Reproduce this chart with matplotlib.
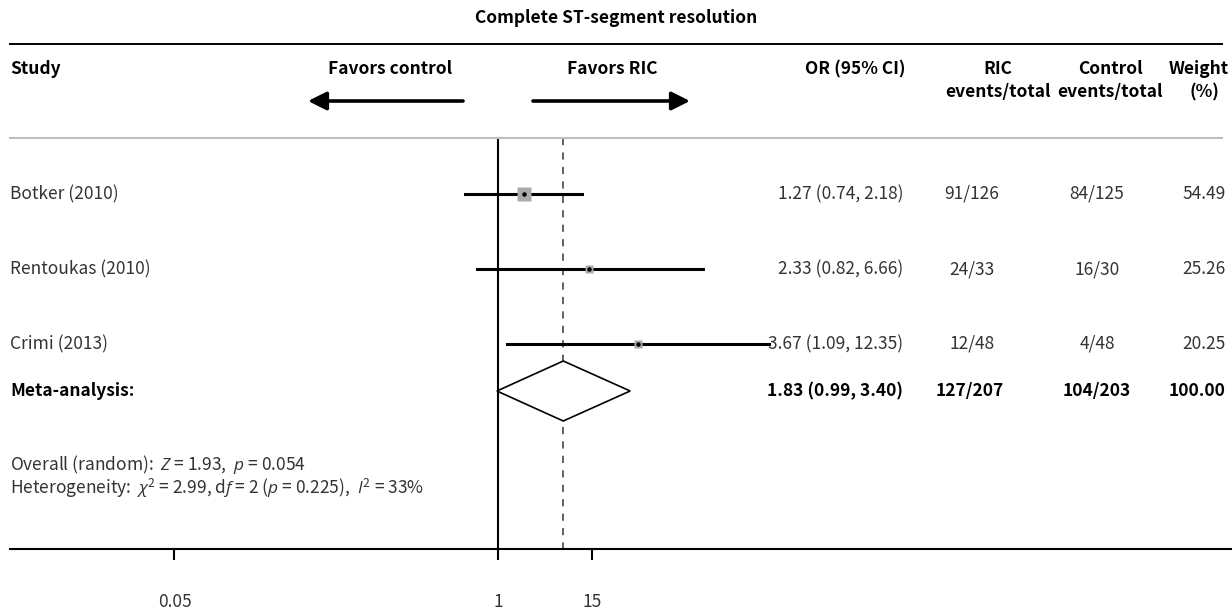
import numpy as np
import matplotlib
matplotlib.use('Agg')  # no display
import matplotlib.pyplot as plt
from matplotlib.patches import Polygon

plt.rcParams['font.family'] = ['Noto Sans CJK JP', 'DejaVu Sans']
plt.rcParams['mathtext.fontset'] = 'custom'
plt.rcParams['mathtext.rm'] = 'Noto Sans CJK JP'
plt.rcParams['mathtext.it'] = 'Open Sans:italic'
plt.rcParams['mathtext.bf'] = 'Noto Sans CJK JP:bold'

# data
studies = ['Botker (2010)', 'Rentoukas (2010)', 'Crimi (2013)']
odds_ratio = [1.27, 2.33, 3.67]
ci_low = [0.74, 0.82, 1.09]
ci_high = [2.18, 6.66, 12.35]
ric_events = ['91/126', '24/33', '12/48']
control_events = ['84/125', '16/30', '4/48']
weights = [54.49, 25.26, 20.25]

pooled_or = 1.83
pooled_low = 0.99
pooled_high = 3.40
pooled_ric = '127/207'
pooled_control = '104/203'
pooled_weight = 100.00

overall_txt = r'Overall (random):  $\mathit{Z}$ = 1.93,  $\mathit{p}$ = 0.054'
hetero_txt = (r'Heterogeneity:  $\chi^2$ = 2.99, d$\mathit{f}$ = 2 ($\mathit{p}$ = 0.225),  '
              r'$\mathit{I}^2$ = 33%')

tick_vals = [0.05, 1, 2.39]
tick_labels = ['0.05', '1', '15']

# layout (pixels, figure is 1232 x 614 at 100 dpi)
W, H = 1232, 614
row_y = [194, 269, 344]
meta_y = 391
axis_y = 549
top_line_y = 44
grey_line_y = 138
px_per_log = 108.0
x_one = 498

fig = plt.figure(figsize=(W / 100, H / 100), dpi=100)
ax = fig.add_axes([0, 0, 1, 1])
ax.set_xscale('log')
ax.set_xlim(np.exp(-x_one / px_per_log), np.exp((W - x_one) / px_per_log))
ax.set_ylim(H, 0)
ax.axis('off')

tr = ax.get_yaxis_transform()  # x in axes fraction, y in data (pixels)


def fx(px):
    return px / W


def txt(px, py, s, ha='left', bold=False, size=12.5):
    ax.text(fx(px), py, s, transform=tr, ha=ha, va='center', fontsize=size,
            fontweight='bold' if bold else 'normal',
            color='black' if bold else '#333333')


# title and rules
txt(616, 18, 'Complete ST-segment resolution', ha='center', bold=True)
ax.plot([fx(10), fx(1222)], [top_line_y, top_line_y], transform=tr, color='black', lw=1.4)
ax.plot([fx(10), fx(1222)], [grey_line_y, grey_line_y], transform=tr, color='#bdbdbd', lw=1.5)

# column headers
txt(10, 69, 'Study', bold=True)
txt(390, 69, 'Favors control', ha='center', bold=True)
txt(612, 69, 'Favors RIC', ha='center', bold=True)
txt(855, 69, 'OR (95% CI)', ha='center', bold=True)
txt(998, 69, 'RIC', ha='center', bold=True)
txt(998, 92, 'events/total', ha='center', bold=True)
txt(1110, 69, 'Control', ha='center', bold=True)
txt(1110, 92, 'events/total', ha='center', bold=True)
txt(1199, 69, 'Weight', ha='center', bold=True)
txt(1204, 92, '(%)', ha='center', bold=True)

arrow_style = dict(arrowstyle='-|>,head_length=1.1,head_width=0.55', lw=2.6,
                   color='black', shrinkA=0, shrinkB=0)
ax.annotate('', xy=(fx(308), 101), xytext=(fx(463), 101), xycoords=tr, textcoords=tr,
            arrowprops=arrow_style)
ax.annotate('', xy=(fx(690), 101), xytext=(fx(533), 101), xycoords=tr, textcoords=tr,
            arrowprops=arrow_style)

# reference lines
ax.plot([1, 1], [grey_line_y, axis_y], color='black', lw=1.5, zorder=1)
ax.plot([pooled_or, pooled_or], [grey_line_y, axis_y], color='#555555', lw=1.3,
        dashes=(4, 4), zorder=1)

# study rows
for i, name in enumerate(studies):
    y = row_y[i]
    ax.plot([ci_low[i], ci_high[i]], [y, y], color='black', lw=2.2, zorder=2)
    ax.plot(odds_ratio[i], y, marker='s', ms=1.27 * np.sqrt(weights[i]),
            color='#aaaaaa', mec='none', zorder=3)
    ax.plot(odds_ratio[i], y, marker='o', ms=2.2, color='black', zorder=4)
    txt(10, y, name)
    txt(903, y, f'{odds_ratio[i]:.2f} ({ci_low[i]:.2f}, {ci_high[i]:.2f})', ha='right')
    txt(972, y, ric_events[i], ha='center')
    txt(1097, y, control_events[i], ha='center')
    txt(1226, y, f'{weights[i]:.2f}', ha='right')

# pooled estimate
diamond = Polygon([(pooled_low, meta_y), (pooled_or, meta_y - 30),
                   (pooled_high, meta_y), (pooled_or, meta_y + 30)],
                  closed=True, facecolor='white', edgecolor='black', lw=1.2, zorder=3)
ax.add_patch(diamond)
txt(10, meta_y, 'Meta-analysis:', bold=True)
txt(903, meta_y, f'{pooled_or:.2f} ({pooled_low:.2f}, {pooled_high:.2f})', ha='right', bold=True)
txt(970, meta_y, pooled_ric, ha='center', bold=True)
txt(1097, meta_y, pooled_control, ha='center', bold=True)
txt(1226, meta_y, f'{pooled_weight:.2f}', ha='right', bold=True)

txt(10, 465, overall_txt)
txt(10, 488, hetero_txt)

# x axis
ax.plot([fx(10), fx(W)], [axis_y, axis_y], transform=tr, color='black', lw=1.5)
for v, lab in zip(tick_vals, tick_labels):
    ax.plot([v, v], [axis_y, axis_y + 10], color='black', lw=1.5)
    ax.text(v, 602, lab, ha='center', va='center', fontsize=12.5, color='#333333')

fig.savefig('out.png', dpi=100)
